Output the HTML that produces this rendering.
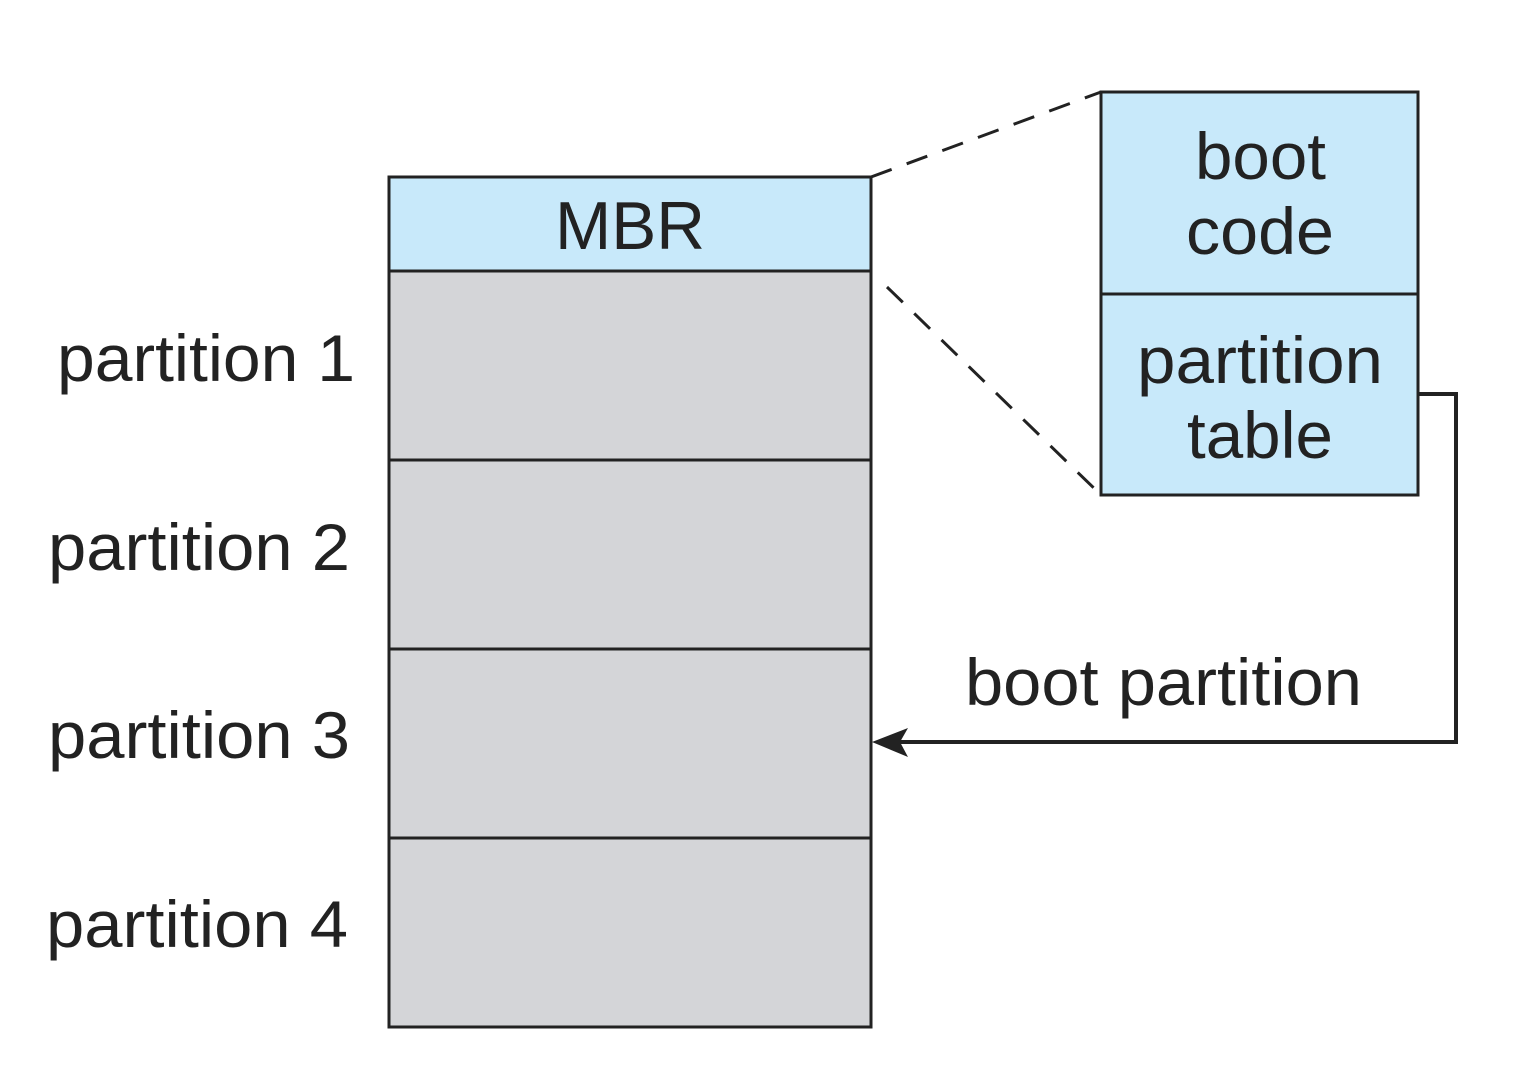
<!DOCTYPE html>
<html><head><meta charset="utf-8"><style>
html,body{margin:0;padding:0;background:#fff;width:1526px;height:1078px;overflow:hidden}
</style></head><body>
<svg width="1526" height="1078" xmlns="http://www.w3.org/2000/svg" font-family="Liberation Sans, Arial, sans-serif">
<rect x="389" y="177" width="482" height="850" fill="#d4d5d8" stroke="#222" stroke-width="3"/>
<rect x="389" y="177" width="482" height="94" fill="#c8e9fa" stroke="#222" stroke-width="3"/>
<line x1="389" y1="460" x2="871" y2="460" stroke="#222" stroke-width="3"/>
<line x1="389" y1="649" x2="871" y2="649" stroke="#222" stroke-width="3"/>
<line x1="389" y1="838" x2="871" y2="838" stroke="#222" stroke-width="3"/>
<text x="555" y="249" font-size="68" fill="#222" textLength="150" lengthAdjust="spacingAndGlyphs">MBR</text>
<g font-size="66" fill="#222">
<text x="57" y="381" textLength="298" lengthAdjust="spacingAndGlyphs">partition 1</text>
<text x="48" y="570" textLength="302" lengthAdjust="spacingAndGlyphs">partition 2</text>
<text x="48" y="758" textLength="302" lengthAdjust="spacingAndGlyphs">partition 3</text>
<text x="46" y="947" textLength="302" lengthAdjust="spacingAndGlyphs">partition 4</text>
</g>
<rect x="1101" y="92" width="317" height="403" fill="#c8e9fa" stroke="#222" stroke-width="3"/>
<line x1="1101" y1="294" x2="1418" y2="294" stroke="#222" stroke-width="3"/>
<g font-size="66" fill="#222">
<text x="1195" y="179" textLength="131" lengthAdjust="spacingAndGlyphs">boot</text>
<text x="1186" y="254" textLength="148" lengthAdjust="spacingAndGlyphs">code</text>
<text x="1137" y="383" textLength="246" lengthAdjust="spacingAndGlyphs">partition</text>
<text x="1187" y="458" textLength="146" lengthAdjust="spacingAndGlyphs">table</text>
</g>
<line x1="871" y1="177" x2="1101" y2="92" stroke="#222" stroke-width="3" stroke-dasharray="22,16"/>
<line x1="887" y1="287" x2="1101" y2="495" stroke="#222" stroke-width="3" stroke-dasharray="22,16"/>
<polyline points="1418,394 1456,394 1456,742 895,742" fill="none" stroke="#222" stroke-width="4"/>
<polygon points="872,742 908,728 900,742 908,757" fill="#222"/>
<text x="965" y="705" font-size="66" fill="#222" textLength="397" lengthAdjust="spacingAndGlyphs">boot partition</text>
</svg>
</body></html>
